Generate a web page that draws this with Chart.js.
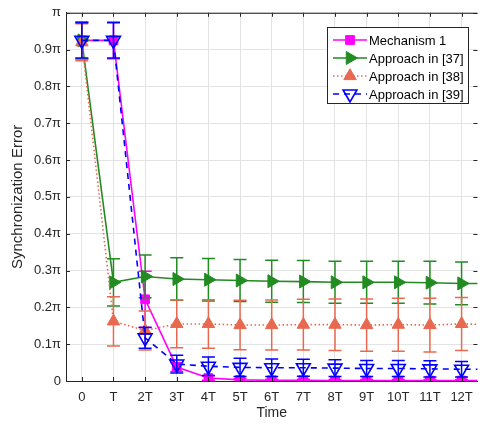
<!DOCTYPE html>
<html lang="en">
<head>
<meta charset="UTF-8">
<title>Synchronization Error</title>
<script src="https://cdn.jsdelivr.net/npm/chart.js"></script>
<style>
    body {
        margin: 0;
        background: #fff;
    }
</style>
</head>
<body>
<canvas id="errChart" width="487" height="424"></canvas>
<script>
// x categories (time steps) and y tick labels
const timeLabels = ['0', 'T', '2T', '3T', '4T', '5T', '6T', '7T', '8T', '9T', '10T', '11T', '12T'];
const yTickValues = [0, 0.1, 0.2, 0.3, 0.4, 0.5, 0.6, 0.7, 0.8, 0.9, 1];
const yTickLabels = ['0', '0.1π', '0.2π', '0.3π', '0.4π', '0.5π', '0.6π', '0.7π', '0.8π', '0.9π', 'π'];

// errors in units of pi, last value sits just past the right edge (lines run off the plot)
const mechanism1    = [0.925, 0.925, 0.222, 0.038, 0.008, 0.003, 0.002, 0.002, 0.001, 0.001, 0.001, 0.001, 0.001, 0.001];
const mechanism1Err = [0.05, 0.05, 0.076, 0.012, 0.006, 0.004, 0.003, 0.003, 0.003, 0.003, 0.003, 0.003, 0.003, 0.003];

const approach37    = [0.925, 0.268, 0.284, 0.277, 0.275, 0.273, 0.271, 0.270, 0.268, 0.268, 0.268, 0.267, 0.265, 0.265];
const approach37Err = [0.05, 0.064, 0.058, 0.058, 0.058, 0.057, 0.057, 0.057, 0.057, 0.057, 0.057, 0.058, 0.058, 0.058];

const approach38    = [0.92, 0.162, 0.137, 0.155, 0.155, 0.152, 0.152, 0.153, 0.153, 0.152, 0.153, 0.152, 0.155, 0.153];
const approach38Err = [0.05, 0.067, 0.053, 0.065, 0.066, 0.067, 0.068, 0.069, 0.07, 0.071, 0.072, 0.073, 0.072, 0.072];

const approach39    = [0.925, 0.925, 0.117, 0.046, 0.040, 0.037, 0.036, 0.036, 0.035, 0.034, 0.034, 0.033, 0.032, 0.032];
const approach39Err = [0.048, 0.048, 0.028, 0.024, 0.025, 0.025, 0.024, 0.023, 0.023, 0.022, 0.022, 0.022, 0.021, 0.021];

const FONT = "'Liberation Sans', Arial, Helvetica, sans-serif";
const AXIS = '#262626';

function toPoints(values) {
    return values.map((v, i) => ({ x: i, y: v }));
}

// vertical error bars with caps, drawn just under each dataset
const errorBars = {
    id: 'errorBars',
    beforeDatasetDraw(chart, args) {
        const ds = chart.data.datasets[args.index];
        if (!ds.errors) return;
        const xs = chart.scales.x, ys = chart.scales.y, ctx = chart.ctx, area = chart.chartArea;
        ctx.save();
        ctx.beginPath();
        ctx.rect(area.left, area.top - 20, area.right - area.left, area.bottom - area.top + 20);
        ctx.clip();
        ctx.strokeStyle = ds.borderColor;
        ctx.lineWidth = 1.5;
        ctx.setLineDash([]);
        ds.data.forEach((p, i) => {
            if (p.x > xs.max) return;
            const px = xs.getPixelForValue(p.x);
            const top = ys.getPixelForValue(p.y + ds.errors[i]);
            const bot = ys.getPixelForValue(p.y - ds.errors[i]);
            ctx.beginPath();
            ctx.moveTo(px, top); ctx.lineTo(px, bot);
            ctx.moveTo(px - 6.5, top); ctx.lineTo(px + 6.5, top);
            ctx.moveTo(px - 6.5, bot); ctx.lineTo(px + 6.5, bot);
            ctx.stroke();
        });
        ctx.restore();
    }
};

// top border, inward ticks and the boxed legend
const frameAndLegend = {
    id: 'frameAndLegend',
    afterDraw(chart) {
        const ctx = chart.ctx, a = chart.chartArea;
        const xs = chart.scales.x, ys = chart.scales.y;
        ctx.save();
        ctx.strokeStyle = AXIS;
        ctx.lineWidth = 1;
        ctx.beginPath();
        ctx.moveTo(a.left, a.top + 0.5); ctx.lineTo(a.right, a.top + 0.5);
        xs.ticks.forEach(t => {
            const px = Math.round(xs.getPixelForValue(t.value)) + 0.5;
            ctx.moveTo(px, a.bottom); ctx.lineTo(px, a.bottom - 4);
            ctx.moveTo(px, a.top); ctx.lineTo(px, a.top + 4);
        });
        ys.ticks.forEach(t => {
            const py = Math.round(ys.getPixelForValue(t.value)) + 0.5;
            ctx.moveTo(a.left, py); ctx.lineTo(a.left + 4, py);
            ctx.moveTo(a.right, py); ctx.lineTo(a.right - 4, py);
        });
        ctx.stroke();

        // legend box
        const bx = 327.5, by = 27.5, bw = 141, bh = 76;
        ctx.fillStyle = '#fff';
        ctx.fillRect(bx, by, bw, bh);
        ctx.strokeStyle = AXIS;
        ctx.strokeRect(bx, by, bw, bh);
        ctx.font = '13px ' + FONT;
        ctx.textBaseline = 'middle';
        chart.data.datasets.forEach((ds, i) => {
            const ly = 40 + i * 18;
            ctx.strokeStyle = ds.borderColor;
            ctx.lineWidth = ds.borderWidth;
            ctx.setLineDash(ds.borderDash || []);
            ctx.beginPath();
            ctx.moveTo(333, ly); ctx.lineTo(367, ly);
            ctx.stroke();
            ctx.setLineDash([]);
            ctx.fillStyle = ds.pointBackgroundColor;
            ctx.strokeStyle = ds.borderColor;
            ctx.lineWidth = ds.pointBorderWidth;
            Chart.helpers.drawPoint(ctx, {
                pointStyle: ds.pointStyle,
                rotation: ds.pointRotation || 0,
                radius: ds.pointRadius,
                borderWidth: ds.pointBorderWidth
            }, 350, ly);
            ctx.fillStyle = '#000';
            ctx.fillText(ds.label, 369, ly + 1);
        });
        ctx.restore();
    }
};

const salmon = '#e8694f';

new Chart(document.getElementById('errChart'), {
    type: 'line',
    data: {
        datasets: [
            {
                label: 'Mechanism 1',
                data: toPoints(mechanism1),
                errors: mechanism1Err,
                borderColor: '#ff00ff',
                borderWidth: 1.6,
                pointStyle: 'rect',
                pointRadius: 6.2,
                pointBackgroundColor: '#ff00ff',
                pointBorderColor: '#ff00ff',
                pointBorderWidth: 1,
                order: 4
            },
            {
                label: 'Approach in [37]',
                data: toPoints(approach37),
                errors: approach37Err,
                borderColor: '#228b22',
                borderWidth: 1.6,
                pointStyle: 'triangle',
                pointRotation: 90,
                pointRadius: 7.5,
                pointBackgroundColor: '#228b22',
                pointBorderColor: '#228b22',
                pointBorderWidth: 1,
                order: 3
            },
            {
                label: 'Approach in [38]',
                data: toPoints(approach38),
                errors: approach38Err,
                borderColor: salmon,
                borderWidth: 1.6,
                borderDash: [1.5, 2.5],
                pointStyle: 'triangle',
                pointRadius: 7.2,
                pointBackgroundColor: salmon,
                pointBorderColor: salmon,
                pointBorderWidth: 1,
                order: 2
            },
            {
                label: 'Approach in [39]',
                data: toPoints(approach39),
                errors: approach39Err,
                borderColor: '#0000ff',
                borderWidth: 1.6,
                borderDash: [6, 5],
                pointStyle: 'triangle',
                pointRotation: 180,
                pointRadius: 8,
                pointBackgroundColor: 'rgba(255,255,255,0)',
                pointBorderColor: '#0000ff',
                pointBorderWidth: 1.6,
                order: 1
            }
        ]
    },
    options: {
        responsive: false,
        animation: false,
        devicePixelRatio: 1,
        layout: { padding: { top: 10, right: 0, left: 0, bottom: 0 } },
        plugins: {
            legend: { display: false },
            tooltip: { enabled: false }
        },
        elements: { line: { tension: 0 } },
        scales: {
            x: {
                type: 'linear',
                min: -0.5,
                max: 12.5,
                afterBuildTicks: s => { s.ticks = timeLabels.map((_, i) => ({ value: i })); },
                afterFit: s => { s.height = 43; },
                ticks: {
                    callback: (v, i) => timeLabels[i],
                    color: AXIS,
                    font: { family: FONT, size: 13 },
                    padding: 9,
                    maxRotation: 0,
                    autoSkip: false
                },
                grid: { color: '#e3e3e3', drawTicks: false },
                border: { color: AXIS, width: 1 },
                title: {
                    display: true,
                    text: 'Time',
                    color: AXIS,
                    font: { family: FONT, size: 14 },
                    padding: { top: 0, bottom: 2 }
                }
            },
            y: {
                min: 0,
                max: 1,
                afterBuildTicks: s => { s.ticks = yTickValues.map(v => ({ value: v })); },
                afterFit: s => { s.width = 66; },
                ticks: {
                    callback: (v, i) => yTickLabels[i],
                    color: AXIS,
                    font: { family: FONT, size: 13 },
                    padding: 5
                },
                grid: { color: '#e3e3e3', drawTicks: false },
                border: { color: AXIS, width: 1 },
                title: {
                    display: true,
                    text: 'Synchronization Error',
                    color: AXIS,
                    font: { family: FONT, size: 15 },
                    padding: { top: 9, bottom: 0 }
                }
            }
        }
    },
    plugins: [errorBars, frameAndLegend]
});
</script>
</body>
</html>
